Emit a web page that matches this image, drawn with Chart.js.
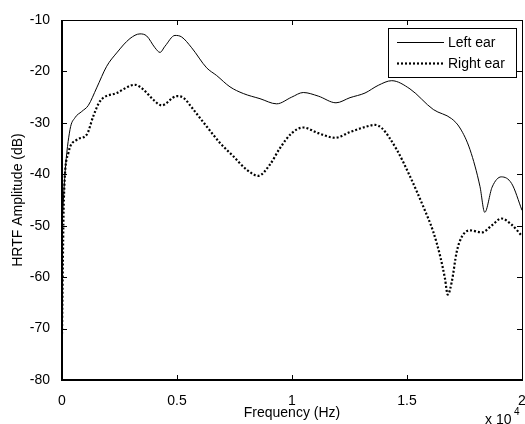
<!DOCTYPE html>
<html>
<head>
<meta charset="utf-8">
<script src="https://cdn.jsdelivr.net/npm/chart.js@4/dist/chart.umd.min.js"></script>
<style>
  html, body { margin: 0; padding: 0; background: #fff; overflow: hidden; }
  #wrap { width: 525px; height: 424px; }
</style>
</head>
<body>
<div id="wrap"><canvas id="hrtf"></canvas></div>
<script>
// values (frequency in Hz, amplitude in dB)
const leftFreq = [0, 130, 348, 565, 856, 1145, 1507, 1943, 2377, 2957, 3391, 3681, 4043, 4261, 4478, 4913, 5203, 5638, 6290, 6725, 7304, 7884, 8609, 9333, 9986, 10490, 11143, 11913, 12522, 13174, 13752, 14335, 15130, 16143, 16943, 17304, 17739, 18174, 18380, 18700, 19100, 19550, 20000];
const leftDb = [-50, -39.8, -31.3, -29.0, -27.8, -26.6, -23.2, -19.0, -16.4, -13.6, -12.7, -13.1, -15.4, -16.3, -15.1, -13.0, -13.3, -15.4, -19.3, -20.8, -23.0, -24.3, -25.3, -26.3, -25.0, -24.1, -24.8, -26.1, -25.1, -24.2, -22.7, -21.8, -23.4, -27.4, -29.2, -31.0, -35.2, -42.4, -47.4, -42.5, -40.5, -41.8, -47.0];

const rightFreq = [0, 80, 274, 639, 1074, 1361, 1652, 2377, 3174, 3535, 3970, 4335, 4987, 5274, 5709, 6290, 6870, 7448, 8030, 8535, 9043, 9478, 9986, 10490, 11143, 11870, 12522, 13100, 13609, 13900, 14552, 15130, 15709, 16143, 16435, 16652, 16770, 16943, 17160, 17378, 17739, 18248, 18700, 19100, 19550, 20000];
const rightDb = [-71, -45, -35.9, -33.3, -32.3, -28.7, -25.8, -24.2, -22.6, -23.5, -25.5, -26.6, -24.8, -25.1, -27.4, -30.7, -33.9, -36.5, -39.1, -40.3, -38.1, -34.9, -32.0, -30.9, -32.0, -32.9, -31.8, -30.9, -30.4, -31.0, -35.2, -40.4, -46.3, -51.2, -55.8, -60.3, -63.4, -61.0, -55.1, -52.2, -50.9, -51.3, -49.9, -48.6, -49.8, -52.0];

const xTicks = [0, 5000, 10000, 15000, 20000];
const yTicks = [-80, -70, -60, -50, -40, -30, -20, -10];
const seriesNames = ['Left ear', 'Right ear'];

const FONT = 'Arial, "Liberation Sans", sans-serif';

function toPoints(xs, ys) {
  return xs.map((x, i) => ({ x: x, y: ys[i] }));
}

// box around the axes, inward ticks, exponent text and the legend
const matlabFrame = {
  id: 'matlabFrame',
  afterDraw(chart) {
    const ctx = chart.ctx;
    const a = chart.chartArea;
    const xs = chart.scales.x, ys = chart.scales.y;
    ctx.save();
    ctx.strokeStyle = '#000';
    ctx.lineWidth = 1;
    ctx.strokeRect(Math.round(a.left) + 0.5, Math.round(a.top) + 0.5,
      Math.round(a.right - a.left), Math.round(a.bottom - a.top));
    ctx.beginPath();
    xTicks.forEach(v => {
      const px = Math.round(xs.getPixelForValue(v)) + 0.5;
      ctx.moveTo(px, a.bottom); ctx.lineTo(px, a.bottom - 5);
      ctx.moveTo(px, a.top); ctx.lineTo(px, a.top + 5);
    });
    yTicks.forEach(v => {
      const py = Math.round(ys.getPixelForValue(v)) + 0.5;
      ctx.moveTo(a.left, py); ctx.lineTo(a.left + 5, py);
      ctx.moveTo(a.right, py); ctx.lineTo(a.right - 5, py);
    });
    ctx.stroke();
    // thicker bottom and left axis lines like the picture
    ctx.lineWidth = 2;
    ctx.beginPath();
    ctx.moveTo(a.left, a.top); ctx.lineTo(a.left, a.bottom); ctx.lineTo(a.right, a.bottom);
    ctx.stroke();

    // x 10^4
    ctx.fillStyle = '#000';
    ctx.font = '14px ' + FONT;
    ctx.textAlign = 'left';
    ctx.textBaseline = 'alphabetic';
    ctx.fillText('x 10', 485, 424);
    ctx.font = '10px ' + FONT;
    ctx.fillText('4', 514, 415);

    // legend
    const lx = 388, ly = 28, lw = 128, lh = 49;
    ctx.fillStyle = '#fff';
    ctx.fillRect(lx, ly, lw, lh);
    ctx.lineWidth = 1;
    ctx.strokeStyle = '#000';
    ctx.strokeRect(lx + 0.5, ly + 0.5, lw, lh);
    chart.data.datasets.forEach((ds, i) => {
      const yy = ly + 14 + i * 21;
      ctx.beginPath();
      ctx.lineWidth = ds.borderWidth;
      ctx.setLineDash(ds.borderDash || []);
      ctx.moveTo(lx + 9, yy + 0.5);
      ctx.lineTo(lx + 56, yy + 0.5);
      ctx.stroke();
      ctx.setLineDash([]);
      ctx.fillStyle = '#000';
      ctx.font = '14px ' + FONT;
      ctx.textBaseline = 'middle';
      ctx.fillText(ds.label, lx + 60, yy + 1);
    });
    ctx.restore();
  }
};

new Chart(document.getElementById('hrtf'), {
  type: 'line',
  data: {
    datasets: [
      {
        label: seriesNames[0],
        data: toPoints(leftFreq, leftDb),
        borderColor: '#000',
        borderWidth: 1,
        pointRadius: 0,
        fill: false,
        cubicInterpolationMode: 'monotone'
      },
      {
        label: seriesNames[1],
        data: toPoints(rightFreq, rightDb),
        borderColor: '#000',
        borderWidth: 2.2,
        borderDash: [2, 2],
        pointRadius: 0,
        fill: false,
        cubicInterpolationMode: 'monotone'
      }
    ]
  },
  options: {
    responsive: true,
    maintainAspectRatio: false,
    animation: false,
    layout: { padding: { left: 0, top: 20, right: 3, bottom: 0 } },
    plugins: { legend: { display: false }, tooltip: { enabled: false } },
    scales: {
      x: {
        type: 'linear',
        min: 0,
        max: 20000,
        // don't let the "2" label shrink the plot area
        afterFit: s => { s.height = 44; s.paddingLeft = 0; s.paddingRight = 0; },
        afterBuildTicks: s => { s.ticks = xTicks.map(v => ({ value: v })); },
        grid: { display: false },
        border: { display: false },
        ticks: {
          color: '#000',
          font: { family: FONT, size: 14 },
          padding: 5,
          maxRotation: 0,
          callback: v => String(v / 10000)
        },
        title: {
          display: true,
          text: 'Frequency (Hz)',
          color: '#000',
          font: { family: FONT, size: 14 },
          padding: { top: 0, bottom: 2 }
        }
      },
      y: {
        min: -80,
        max: -10,
        afterFit: s => { s.width = 62; },
        afterBuildTicks: s => { s.ticks = yTicks.map(v => ({ value: v })); },
        grid: { display: false },
        border: { display: false },
        ticks: {
          color: '#000',
          font: { family: FONT, size: 14 },
          padding: 4
        },
        title: {
          display: true,
          text: 'HRTF Amplitude (dB)',
          color: '#000',
          font: { family: FONT, size: 14 },
          padding: { top: 10, bottom: 0 }
        }
      }
    }
  },
  plugins: [matlabFrame]
});
</script>
</body>
</html>
